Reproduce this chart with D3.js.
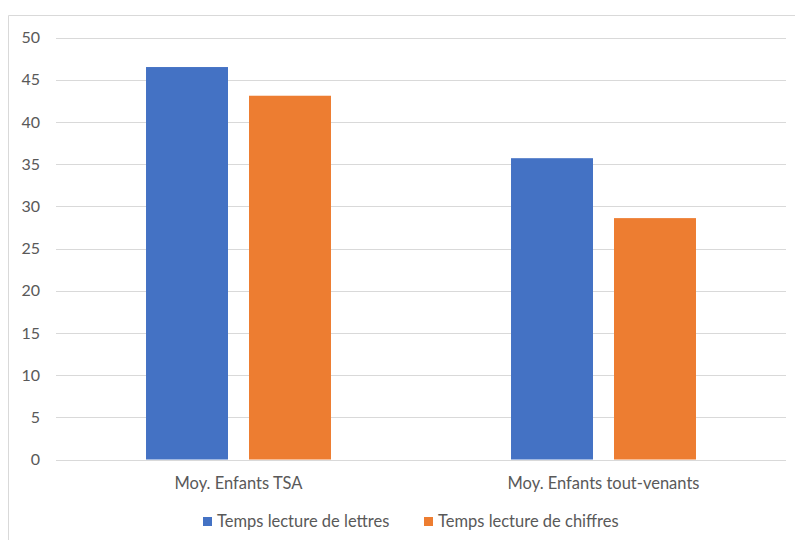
<!DOCTYPE html>
<html>
<head>
<meta charset="utf-8">
<script src="https://cdn.jsdelivr.net/npm/d3@7"></script>
<style>
  html, body { margin: 0; padding: 0; background: #fff; }
  svg { display: block; }
  text { font-family: Lato, "Open Sans", sans-serif; fill: #595959; }
</style>
</head>
<body>
<svg id="chart" width="795" height="540"></svg>
<script>
// Chart data
const categories = ["Moy. Enfants TSA", "Moy. Enfants tout-venants"];
const series = ["Temps lecture de lettres", "Temps lecture de chiffres"];
const lettres = [46.5, 35.7];
const chiffres = [43.1, 28.6];
const yTicks = [0, 5, 10, 15, 20, 25, 30, 35, 40, 45, 50];
const colors = ["#4472c4", "#ed7d31"];

const values = [lettres, chiffres];
const rows = categories.map((c, i) => ({
  category: c,
  bars: series.map((s, j) => ({ series: s, value: values[j][i], color: colors[j] }))
}));

const svg = d3.select("#chart");

// Chart frame
svg.append("path")
  .attr("d", "M8.5,540 V15.5 H795")
  .attr("fill", "none")
  .attr("stroke", "#d9d9d9")
  .attr("stroke-width", 1);

const plot = { left: 56, right: 786, top: 37.5, bottom: 459.5 };

const y = d3.scaleLinear().domain([0, 50]).range([plot.bottom, plot.top]);
const x0 = d3.scaleBand().domain(categories).range([plot.left, plot.right]).padding(0);
const x1 = d3.scaleBand().domain(series).range([0, x0.bandwidth()])
  .paddingInner(0.204).paddingOuter(0.874);

// Gridlines
svg.append("g").selectAll("line")
  .data(yTicks)
  .join("line")
  .attr("x1", plot.left).attr("x2", plot.right)
  .attr("y1", d => Math.round(y(d)) + 0.5).attr("y2", d => Math.round(y(d)) + 0.5)
  .attr("stroke", "#d9d9d9")
  .attr("stroke-width", 1);

// Y axis labels
const yAxis = d3.axisLeft(y).tickValues(yTicks).tickSize(0).tickPadding(0);
const yg = svg.append("g").attr("transform", "translate(40,0)").call(yAxis);
yg.select(".domain").remove();
yg.selectAll("text")
  .attr("font-size", "16px")
  .attr("font-family", "Lato, sans-serif")
  .attr("fill", "#595959");

// Bars
const groups = svg.append("g").selectAll("g")
  .data(rows)
  .join("g")
  .attr("transform", d => `translate(${x0(d.category)},0)`);

groups.selectAll("rect")
  .data(d => d.bars)
  .join("rect")
  .attr("x", d => x1(d.series))
  .attr("width", x1.bandwidth())
  .attr("y", d => y(d.value))
  .attr("height", d => y(0) - y(d.value))
  .attr("fill", d => d.color);

// Category labels
const xAxis = d3.axisBottom(x0).tickSize(0).tickPadding(0);
const xg = svg.append("g").attr("transform", `translate(0,${plot.bottom + 29})`).call(xAxis);
xg.select(".domain").remove();
xg.selectAll("text")
  .attr("dy", "0")
  .attr("font-size", "16.5px")
  .attr("font-family", "Lato, sans-serif")
  .attr("fill", "#595959");

// Legend
const legendItems = [
  { label: series[0], color: colors[0], x: 203 },
  { label: series[1], color: colors[1], x: 424 }
];
const lg = svg.append("g").selectAll("g")
  .data(legendItems)
  .join("g")
  .attr("transform", d => `translate(${d.x},517)`);
lg.append("rect")
  .attr("width", 9).attr("height", 9)
  .attr("fill", d => d.color);
lg.append("text")
  .attr("x", 14)
  .attr("y", 10)
  .attr("font-size", "16.5px")
  .text(d => d.label);
</script>
</body>
</html>
